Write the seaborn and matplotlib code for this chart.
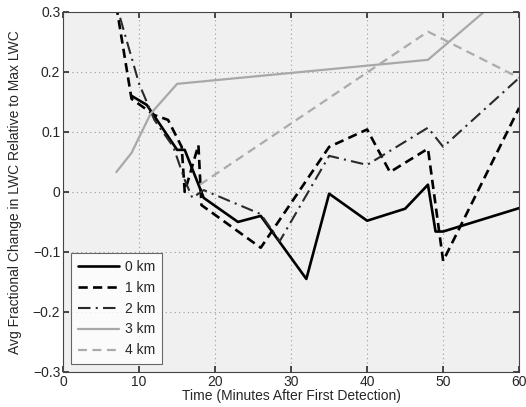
import matplotlib
matplotlib.use("Agg")
import matplotlib.pyplot as plt
import seaborn as sns
import pandas as pd
import numpy as np

# ---- data ----
t0 = [9, 11, 15, 16, 18.5, 23, 26, 30, 32, 35, 40, 45, 48, 49, 50, 60]
v0 = [0.16, 0.145, 0.07, 0.07, -0.01, -0.05, -0.04, -0.11, -0.145, -0.003, -0.048, -0.028, 0.012, -0.066, -0.066, -0.027]

t1 = [7, 9, 12, 13.8, 15.6, 16, 17.8, 18.2, 26, 35, 40, 43, 48, 50, 60]
v1 = [0.31, 0.155, 0.128, 0.12, 0.075, 0.0, 0.078, -0.022, -0.093, 0.075, 0.104, 0.033, 0.072, -0.115, 0.14]

t2 = [7.5, 10, 12, 14.5, 16, 17, 18.5, 26, 28.5, 35, 40, 48, 50, 60]
v2 = [0.29, 0.18, 0.12, 0.075, 0.02, -0.01, 0.003, -0.037, -0.082, 0.06, 0.045, 0.107, 0.075, 0.19]

t3 = [7, 9, 11.5, 15, 48, 60]
v3 = [0.033, 0.065, 0.13, 0.18, 0.22, 0.35]

t4 = [18, 48, 60]
v4 = [0.012, 0.267, 0.19]

labels = ["0 km", "1 km", "2 km", "3 km", "4 km"]
xticks = [0, 10, 20, 30, 40, 50, 60]
yticks = [-0.3, -0.2, -0.1, 0, 0.1, 0.2, 0.3]
ytick_labels = ["\u22120.3", "\u22120.2", "\u22120.1", "0", "0.1", "0.2", "0.3"]

sns.set_theme(style="ticks")
plt.rcParams['font.family'] = ['Liberation Sans', 'DejaVu Sans']

fig = plt.figure(figsize=(5.26, 4.07), dpi=100)
ax = fig.add_axes([0.12, 0.086, 0.867, 0.885])
ax.set_facecolor("#f0f0f0")

series = [(t0, v0), (t1, v1), (t2, v2), (t3, v3), (t4, v4)]
styles = [
    dict(color="black", lw=1.9, ls="-"),
    dict(color="black", lw=1.9, ls=(0, (3.5, 2.0))),
    dict(color="#2a2a2a", lw=1.5, ls=(0, (6, 2.5, 1, 2.5))),
    dict(color="#a8a8a8", lw=1.6, ls="-"),
    dict(color="#ababab", lw=1.6, ls=(0, (4, 2.5))),
]
for (t, v), lab, st in zip(series, labels, styles):
    df = pd.DataFrame({"t": t, "v": v})
    sns.lineplot(data=df, x="t", y="v", ax=ax, label=lab, color=st["color"],
                 linewidth=st["lw"], linestyle=st["ls"], sort=False, estimator=None)

ax.set_xlim(0, 60)
ax.set_ylim(-0.3, 0.3)
ax.set_xticks(xticks)
ax.set_yticks(yticks)
ax.set_yticklabels(ytick_labels)
ax.grid(True, color="#9a9a9a", linestyle=(0, (1, 3)), linewidth=0.8)
ax.tick_params(direction="in", top=True, right=True, labelsize=10, length=4,
               color="#333333", pad=2)
for s in ax.spines.values():
    s.set_color("#444444")
    s.set_linewidth(0.8)
ax.set_xlabel("Time (Minutes After First Detection)", fontsize=10, labelpad=0)
ax.set_ylabel("Avg Fractional Change in LWC Relative to Max LWC", fontsize=10, labelpad=8)

leg = ax.legend(loc="lower left", fontsize=10, frameon=True, fancybox=False,
                edgecolor="#444444", handlelength=3.0, borderaxespad=0.6,
                labelspacing=0.5, handletextpad=0.4, borderpad=0.45)
leg.get_frame().set_facecolor("white")
leg.get_frame().set_linewidth(0.8)

fig.savefig("out.png", dpi=100)
